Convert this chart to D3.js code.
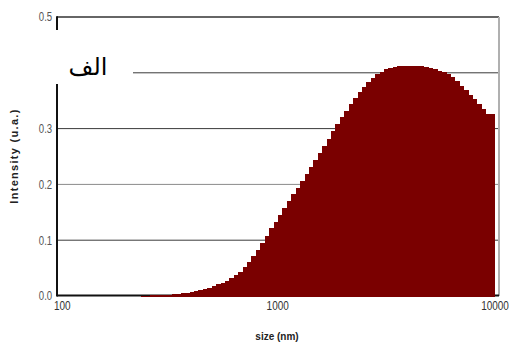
<!DOCTYPE html>
<html>
<head>
<meta charset="utf-8">
<script src="https://cdn.jsdelivr.net/npm/d3@7"></script>
<style>
  html, body { margin: 0; padding: 0; background: #fff; }
  svg { display: block; }
</style>
</head>
<body>
<svg id="chart" width="509" height="344"></svg>
<script>
// Size-distribution bins (nm): lower/upper edges, log-spaced
const binEdges = [
  239.9, 251.2, 263.0, 275.4, 288.4, 302.0, 316.2, 331.1, 346.7, 363.1,
  380.2, 398.1, 416.9, 436.5, 457.1, 478.6, 501.2, 524.8, 549.5, 575.4,
  602.6, 631.0, 660.7, 691.8, 724.4, 758.6, 794.3, 831.8, 871.0, 912.0,
  955.0, 1000, 1047, 1096, 1148, 1202, 1259, 1318, 1380, 1445,
  1514, 1585, 1660, 1738, 1820, 1905, 1995, 2089, 2188, 2291,
  2399, 2512, 2630, 2754, 2884, 3020, 3162, 3311, 3467, 3631,
  3802, 3981, 4169, 4365, 4571, 4786, 5012, 5248, 5495, 5754,
  6026, 6310, 6607, 6918, 7244, 7586, 7943, 8318, 8710, 9120,
  9550
];

// Intensity per bin (u.a.)
const intensity = [
  0.0005, 0.0007, 0.0009, 0.0012, 0.0016, 0.0020, 0.0025, 0.0030, 0.0038, 0.0047,
  0.0058, 0.0071, 0.0087, 0.0103, 0.0126, 0.0148, 0.0177, 0.0208, 0.0235, 0.0275,
  0.032, 0.038, 0.0438, 0.052, 0.061, 0.0715, 0.083, 0.0956, 0.108, 0.121,
  0.133, 0.145, 0.157, 0.170, 0.182, 0.194, 0.206, 0.219, 0.231, 0.243,
  0.256, 0.269, 0.282, 0.295, 0.308, 0.320, 0.332, 0.344, 0.355, 0.365,
  0.375, 0.383, 0.391, 0.397, 0.402, 0.406, 0.408, 0.410, 0.412, 0.413,
  0.413, 0.413, 0.413, 0.412, 0.410, 0.408, 0.406, 0.404, 0.401, 0.398,
  0.392, 0.385, 0.377, 0.369, 0.361, 0.353, 0.344, 0.336, 0.326, 0.326
];

const xTicks = [100, 1000, 10000];
const xTickLabels = ["100", "1000", "10000"];
const yTicks = [0, 0.1, 0.2, 0.3, 0.4, 0.5];
const yTickLabels = ["0.0", "0.1", "0.2", "0.3", "0.4", "0.5"];
const gridValues = [0.1, 0.2, 0.3, 0.4];

const xTitle = "size (nm)";
const yTitle = "Intensity (u.a.)";
const panelLabel = "الف";

const svg = d3.select("#chart");
const plotLeft = 57, plotRight = 499, plotTop = 17, plotBottom = 296;

const x = d3.scaleLog().domain([100, 10000]).range([plotLeft, plotRight]);
const y = d3.scaleLinear().domain([0, 0.5]).range([plotBottom, plotTop]);

const tickFont = "'Liberation Sans', Arial, sans-serif";
const condense = 0.8; // horizontal squeeze for the narrow tick lettering

// horizontal gridlines
svg.append("g")
  .selectAll("line")
  .data(gridValues)
  .join("line")
  .attr("x1", plotLeft).attr("x2", plotRight)
  .attr("y1", d => y(d)).attr("y2", d => y(d))
  .attr("stroke", d => d === 0.2 ? "#8a8a8a" : "#3a3a3a")
  .attr("stroke-width", 1);

// top and right frame
svg.append("line")
  .attr("x1", plotLeft).attr("x2", plotRight).attr("y1", plotTop).attr("y2", plotTop)
  .attr("stroke", "#333").attr("stroke-width", 1.5);
svg.append("line")
  .attr("x1", plotRight).attr("x2", plotRight).attr("y1", plotTop).attr("y2", plotBottom)
  .attr("stroke", "#b0b0b0").attr("stroke-width", 2);

// bottom axis line
svg.append("line")
  .attr("x1", plotLeft).attr("x2", plotRight)
  .attr("y1", plotBottom - 0.5).attr("y2", plotBottom - 0.5)
  .attr("stroke", "#111").attr("stroke-width", 2);

// histogram bars
svg.append("g")
  .attr("shape-rendering", "crispEdges")
  .selectAll("rect")
  .data(intensity)
  .join("rect")
  .attr("x", (d, i) => x(binEdges[i]))
  .attr("width", (d, i) => x(binEdges[i + 1]) - x(binEdges[i]) + 0.6)
  .attr("y", d => y(d))
  .attr("height", d => y(0) - y(d) + 0.5)
  .attr("fill", "#7a0000");

// left axis line
svg.append("line")
  .attr("x1", plotLeft).attr("x2", plotLeft)
  .attr("y1", plotTop - 0.75).attr("y2", plotBottom + 0.5)
  .attr("stroke", "#111").attr("stroke-width", 2);

// y axis tick labels
const yAxis = d3.axisLeft(y)
  .tickValues(yTicks)
  .tickFormat((d, i) => yTickLabels[i])
  .tickSize(0)
  .tickPadding(6);
const gy = svg.append("g").attr("transform", `translate(${plotLeft},0)`).call(yAxis);
gy.select(".domain").remove();
gy.selectAll("text")
  .attr("font-family", tickFont)
  .attr("font-size", 12)
  .attr("fill", "#555")
  .attr("transform", `scale(${condense},1)`);

// x axis tick labels
const lastTick = xTicks.length - 1;
const xAxis = d3.axisBottom(x)
  .tickValues(xTicks)
  .tickFormat((d, i) => xTickLabels[i])
  .tickSize(0)
  .tickPadding(5);
const gx = svg.append("g").attr("transform", `translate(0,${plotBottom})`).call(xAxis);
gx.select(".domain").remove();
gx.selectAll("text")
  .attr("font-family", tickFont)
  .attr("font-size", 12.5)
  .attr("fill", "#333")
  .attr("transform", `scale(${condense},1)`)
  .attr("dx", (d, i) => i === 0 ? 6 : (i === lastTick ? -5.6 : -1));

// axis titles
svg.append("text")
  .attr("x", 277).attr("y", 340)
  .attr("text-anchor", "middle")
  .attr("font-family", "'Liberation Sans', Arial, sans-serif")
  .attr("font-size", 10)
  .attr("font-weight", "bold")
  .attr("fill", "#222")
  .text(xTitle);

svg.append("text")
  .attr("transform", "translate(18,156) rotate(-90)")
  .attr("text-anchor", "middle")
  .attr("font-family", "'Liberation Sans', Arial, sans-serif")
  .attr("font-size", 11)
  .attr("font-weight", "bold")
  .attr("fill", "#222")
  .attr("letter-spacing", 1.3)
  .text(yTitle);

// panel label on a white patch
svg.append("rect")
  .attr("x", 34).attr("y", 30).attr("width", 99).attr("height", 54)
  .attr("fill", "#fff");
svg.append("text")
  .attr("x", 88).attr("y", 75)
  .attr("text-anchor", "middle")
  .attr("font-family", "'DejaVu Serif', 'DejaVu Sans', serif")
  .attr("font-size", 24)
  .attr("fill", "#000")
  .text(panelLabel);
</script>
</body>
</html>
